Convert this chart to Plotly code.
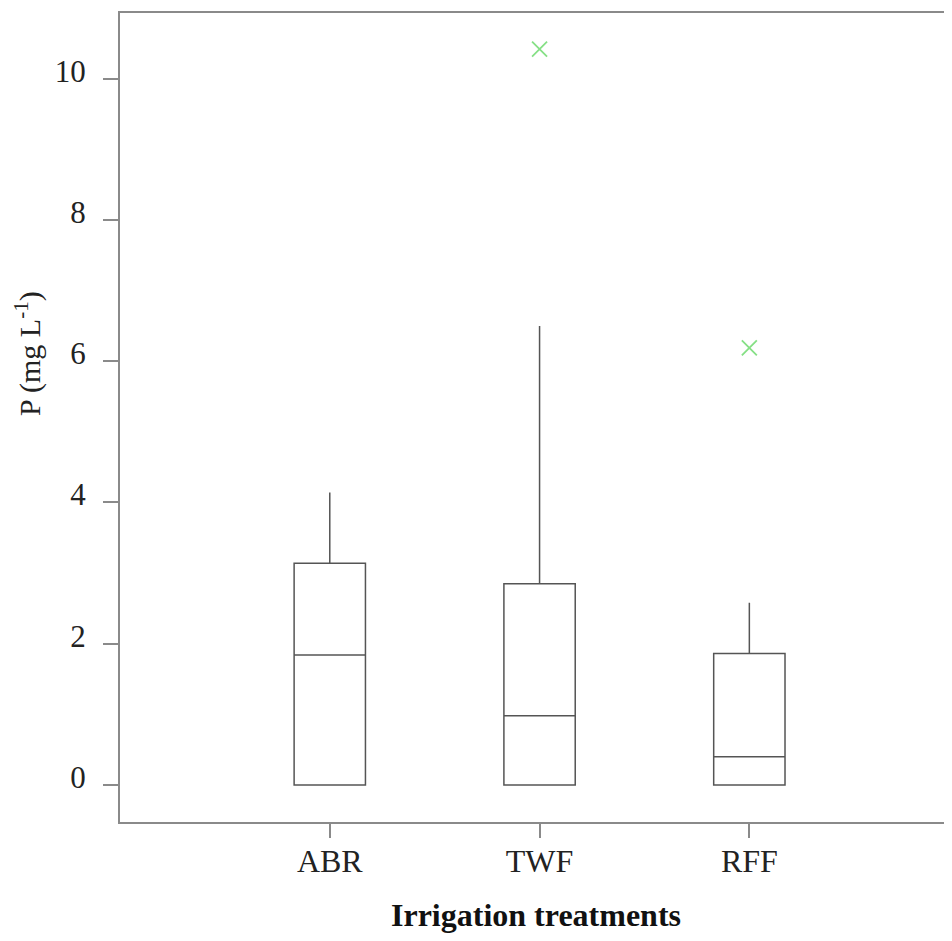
import plotly.graph_objects as go

categories = ["ABR", "TWF", "RFF"]
q1 = [0.0, 0.0, 0.0]
medians = [1.84, 0.98, 0.40]
q3 = [3.14, 2.85, 1.86]
lower = [0.0, 0.0, 0.0]
upper = [4.14, 6.50, 2.58]
outlier_x = ["TWF", "RFF"]
outlier_y = [10.42, 6.19]
y_ticks = [0, 2, 4, 6, 8, 10]

FONT = "Liberation Serif"
AXIS_COL = "#8a8a8a"
BOX_COL = "#555555"

fig = go.Figure()
fig.add_trace(go.Box(
    x=categories, q1=q1, median=medians, q3=q3,
    lowerfence=lower, upperfence=upper,
    boxpoints=False, whiskerwidth=0, width=0.34,
    fillcolor="white", line=dict(color=BOX_COL, width=1.5),
    showlegend=False, hoverinfo="skip",
))
fig.add_trace(go.Scatter(
    x=outlier_x, y=outlier_y, mode="markers",
    marker=dict(symbol="x-thin", size=15, line=dict(color="#86e086", width=1.8)),
    showlegend=False, hoverinfo="skip",
))

fig.update_layout(
    width=944, height=925,
    margin=dict(l=112, r=0, t=5, b=111),
    paper_bgcolor="white", plot_bgcolor="white",
    font=dict(family=FONT, size=31, color="#222"),
    xaxis=dict(
        type="category", categoryorder="array", categoryarray=categories,
        range=[-1, 2.966], showline=True, linecolor=AXIS_COL, linewidth=2,
        mirror=True, ticks="outside", ticklen=14, tickwidth=2, tickcolor=AXIS_COL,
        showgrid=False, zeroline=False, ticklabelstandoff=-4, automargin=False,
        tickfont=dict(family=FONT, size=32, color="#222"),
        title=dict(text="<b>Irrigation treatments</b>", standoff=34,
                   font=dict(family=FONT, size=32, color="#111")),
    ),
    yaxis=dict(
        range=[-0.524, 10.93], tickvals=y_ticks, showline=True,
        linecolor=AXIS_COL, linewidth=2, ticks="outside", ticklen=15,
        tickwidth=2, tickcolor=AXIS_COL, showgrid=False, zeroline=False,
        ticklabelstandoff=11, ticklabelshift=-8, automargin=False,
        tickfont=dict(family=FONT, size=31, color="#222"),
    ),
    annotations=[dict(
        text="P (mg L<sup>-1</sup>)", xref="paper", yref="paper",
        x=-0.11, y=0.579, xanchor="center", yanchor="middle",
        textangle=-90, showarrow=False,
        font=dict(family=FONT, size=30, color="#222"),
    )],
)

fig.write_html("out.html")
